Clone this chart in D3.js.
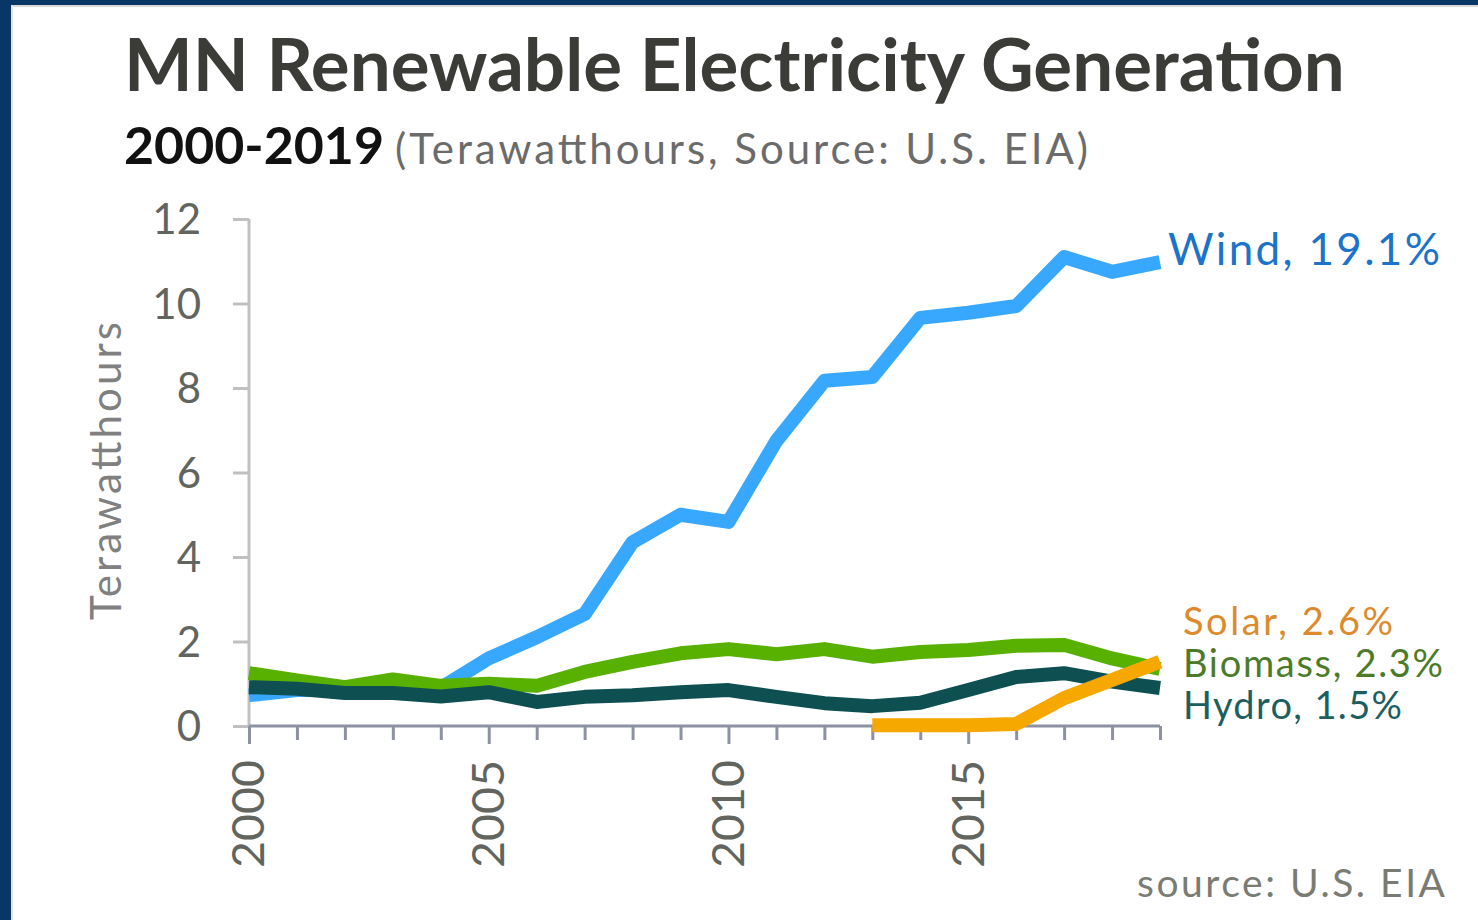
<!DOCTYPE html>
<html><head><meta charset="utf-8">
<script src="https://cdn.jsdelivr.net/npm/d3@7"></script>
<style>
html,body{margin:0;padding:0;background:#fff;}
svg{display:block;}
text{font-family:Lato,"Open Sans",sans-serif;}
</style></head>
<body>
<svg id="chart" width="1478" height="920"></svg>
<script>
// ---- data ----
const years = [2000,2001,2002,2003,2004,2005,2006,2007,2008,2009,2010,2011,2012,2013,2014,2015,2016,2017,2018,2019];
const wind    = [0.73,0.85,0.85,0.85,0.9,1.6,2.1,2.65,4.35,5.0,4.83,6.75,8.17,8.26,9.66,9.78,9.94,11.1,10.75,10.98];
const biomass = [1.25,1.08,0.92,1.1,0.95,1.0,0.95,1.28,1.52,1.72,1.82,1.7,1.82,1.64,1.75,1.8,1.9,1.92,1.6,1.35];
const hydro   = [0.92,0.88,0.78,0.78,0.7,0.8,0.57,0.69,0.73,0.8,0.85,0.69,0.54,0.47,0.55,0.85,1.16,1.25,1.05,0.9];
const solarYears = [2013,2014,2015,2016,2017,2018,2019];
const solar   = [0.02,0.02,0.02,0.05,0.66,1.09,1.52];
const seriesNames = ["Wind","Biomass","Hydro","Solar"];
const seriesShares = ["19.1%","2.3%","1.5%","2.6%"];
const yTicks = [0,2,4,6,8,10,12];
const xTickLabels = [2000,2005,2010,2015];

const svg = d3.select("#chart");
// frame
svg.append("rect").attr("x",0).attr("y",0).attr("width",1478).attr("height",920).attr("fill","#fff");
svg.append("rect").attr("x",0).attr("y",5).attr("width",1478).attr("height",2).attr("fill","#d9d9d9");
svg.append("rect").attr("x",11).attr("y",0).attr("width",2).attr("height",920).attr("fill","#e3e3e3");
svg.append("rect").attr("x",0).attr("y",0).attr("width",1478).attr("height",5).attr("fill","#083766");
svg.append("rect").attr("x",0).attr("y",0).attr("width",11).attr("height",920).attr("fill","#083766");

function fit(sel, w){
  const n = sel.node(); const cur = n.getComputedTextLength();
  const fs = parseFloat(sel.attr("font-size"));
  sel.attr("font-size", fs*w/cur);
  return sel;
}
function spread(sel, w){
  sel.attr("textLength", w).attr("lengthAdjust","spacing");
  return sel;
}

// titles
fit(svg.append("text").attr("x",124).attr("y",91).attr("font-size",70).attr("font-weight","bold")
  .attr("fill","#3b3b38").text("MN Renewable Electricity Generation"),1221);
fit(svg.append("text").attr("x",124).attr("y",164).attr("font-size",48).attr("font-weight","bold")
  .attr("fill","#111").text("2000-2019"),260);
spread(svg.append("text").attr("x",395).attr("y",164).attr("font-size",42)
  .attr("fill","#6b6b6b").text("(Terawatthours, Source: U.S. EIA)"),693);

const x = d3.scaleLinear().domain([2000,2019]).range([249,1160]);
const y = d3.scaleLinear().domain([0,12]).range([726,219]);

// y axis
const yAxis = svg.append("g").attr("transform","translate(249,0)")
  .call(d3.axisLeft(y).tickValues(yTicks).tickSize(16).tickPadding(32));
yAxis.select(".domain").attr("stroke","#c0c0c0").attr("stroke-width",3).attr("d","M0,219V726");
yAxis.selectAll(".tick line").attr("stroke","#c0c0c0").attr("stroke-width",3);
yAxis.selectAll(".tick text").attr("font-size",42).attr("fill","#62645e").attr("font-family","Lato,sans-serif").attr("dy","0.35em");

// y title
spread(svg.append("text").attr("transform","translate(121,471) rotate(-90)").attr("text-anchor","middle")
  .attr("font-size",42).attr("fill","#808080").text("Terawatthours"),298);

// x axis
const xAxis = svg.append("g").attr("transform","translate(0,726)")
  .call(d3.axisBottom(x).tickValues(years).tickSize(14).tickFormat(""));
xAxis.select(".domain").attr("stroke","#8c92a2").attr("stroke-width",3).attr("d","M249,0H1160");
xAxis.selectAll(".tick line").attr("stroke","#8c92a2").attr("stroke-width",3)
  .attr("y2", d => xTickLabels.includes(d) ? 18 : 14);
svg.selectAll(".xlab").data(xTickLabels).enter().append("text")
  .attr("transform", d => `translate(${x(d)},760) rotate(-90)`)
  .attr("text-anchor","end").attr("dy","0.35em")
  .attr("font-size",44).attr("fill","#62645e").attr("textLength",108).attr("lengthAdjust","spacingAndGlyphs").text(d => d);

// lines
const line = d3.line().x(d => x(d[0])).y(d => y(d[1])).curve(d3.curveLinear);
const colors = {Wind:"#38a8ff", Biomass:"#58b000", Hydro:"#0e5052", Solar:"#f6a800"};
const dataMap = {
  Wind: years.map((yr,i)=>[yr,wind[i]]),
  Biomass: years.map((yr,i)=>[yr,biomass[i]]),
  Hydro: years.map((yr,i)=>[yr,hydro[i]]),
  Solar: solarYears.map((yr,i)=>[yr,solar[i]])
};
seriesNames.forEach(n => {
  svg.append("path").attr("d",line(dataMap[n])).attr("fill","none")
    .attr("stroke",colors[n]).attr("stroke-width",14).attr("stroke-linejoin","round").attr("stroke-linecap","butt");
});

// labels
const labelColors = {Wind:"#1b74c9", Biomass:"#4b7b29", Hydro:"#1c5f61", Solar:"#dc8a2c"};
const labelPos = {Wind:[1168,265,272,44], Solar:[1183,635,210,38], Biomass:[1183,677,260,38], Hydro:[1183,719,219,38]};
seriesNames.forEach((n,i) => {
  const p = labelPos[n];
  spread(svg.append("text").attr("x",p[0]).attr("y",p[1]).attr("font-size",p[3])
    .attr("fill",labelColors[n]).text(`${n}, ${seriesShares[i]}`), p[2]);
});

spread(svg.append("text").attr("x",1137).attr("y",897).attr("font-size",39)
  .attr("fill","#7a7b72").text("source: U.S. EIA"),308);
</script>
</body></html>
